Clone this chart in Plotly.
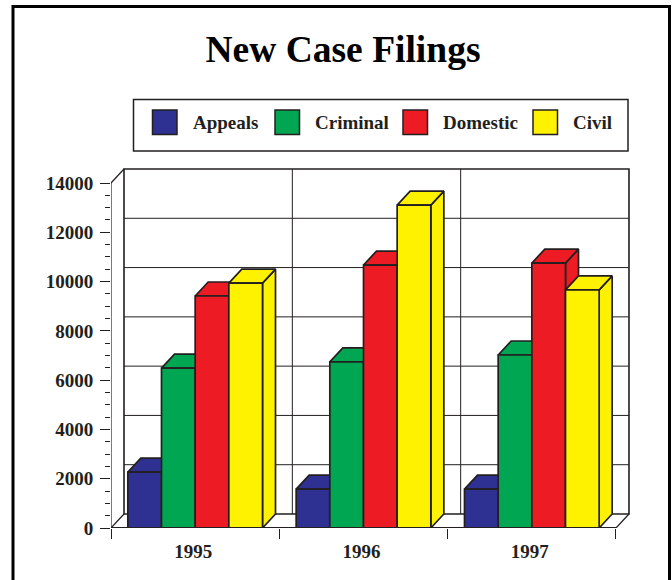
import plotly.graph_objects as go

years = ["1995", "1996", "1997"]
series_names = ["Appeals", "Criminal", "Domestic", "Civil"]
appeals = [2270, 1580, 1580]
criminal = [6490, 6740, 7020]
domestic = [9415, 10670, 10750]
civil = [9940, 13100, 9660]
series_values = [appeals, criminal, domestic, civil]
colors = ["#2e3192", "#00a651", "#ed1c24", "#fff200"]
y_ticks = list(range(0, 14001, 2000))
y_minor = list(range(0, 14001, 500))

INK = "#231f20"
L, R, T, B = 111, 632, 165, 528
PX_X = 168.33
PX_Y = 345 / 14000
DX = 13 / PX_X
DY = 14 / PX_Y
BAR_W = 0.2
X_MAX = (R - L) / PX_X
Y_MAX = (B - T) / PX_Y
n = len(years)

fig = go.Figure()


def line(xs, ys, width=1.0):
    fig.add_trace(go.Scatter(x=xs, y=ys, mode="lines", cliponaxis=False, showlegend=False,
                             hoverinfo="skip", line=dict(color=INK, width=width)))


def poly(xs, ys, color, name):
    fig.add_trace(go.Scatter(x=xs, y=ys, mode="lines", fill="toself", fillcolor=color, name=name,
                             cliponaxis=False, showlegend=False,
                             line=dict(color=INK, width=1.7)))


# back wall gridlines
for v in y_ticks[1:-1]:
    line([DX, n + DX], [v + DY, v + DY])
for i in range(1, n):
    line([i + DX, i + DX], [DY, 14000 + DY])
# wall outline and floor
line([DX, DX, n + DX, n + DX, DX], [DY, 14000 + DY, 14000 + DY, DY, DY], 1.6)
line([0, DX], [0, DY], 1.2)
line([n, n + DX], [0, DY], 1.2)
line([0, DX], [14000, 14000 + DY], 1.2)
line([0, 0], [0, 14000], 1.2)

# bars: side, top, front, left to right
for g in range(n):
    for s, (name, vals, col) in enumerate(zip(series_names, series_values, colors)):
        v = vals[g]
        x0 = g + 0.5 - 2 * BAR_W + s * BAR_W
        x1 = x0 + BAR_W
        poly([x1, x1 + DX, x1 + DX, x1, x1], [0, DY, v + DY, v, 0], col, name)
        poly([x0, x0 + DX, x1 + DX, x1, x0], [v, v + DY, v + DY, v, v], col, name)
        poly([x0, x1, x1, x0, x0], [0, 0, v, v, 0], col, name)

line([0, n], [0, 0], 2)


def px(x):
    return (x - L) / (R - L)


def py(y):
    return (B - y) / (B - T)


shapes = [
    dict(type="rect", xref="paper", yref="paper", x0=px(13), x1=px(669.5), y0=py(600), y1=py(6.5),
         line=dict(color="#000000", width=3), layer="below"),
    dict(type="rect", xref="paper", yref="paper", x0=px(133.5), x1=px(628), y0=py(151), y1=py(99.5),
         line=dict(color=INK, width=1.5), fillcolor="white", layer="below"),
]
annotations = []
swatch_x = [152.5, 275, 403, 533]
label_x = [193, 315, 443, 573]
for name, col, sx, lx in zip(series_names, colors, swatch_x, label_x):
    shapes.append(dict(type="rect", xref="paper", yref="paper", x0=px(sx), x1=px(sx + 24.5),
                       y0=py(134.5), y1=py(110), fillcolor=col, line=dict(color=INK, width=1.5)))
    annotations.append(dict(text=f"<b>{name}</b>", xref="paper", yref="paper", x=px(lx), y=py(122),
                            xanchor="left", yanchor="middle", showarrow=False, xshift=-2,
                            font=dict(family="Liberation Serif", size=19, color=INK)))

fig.update_layout(
    width=672, height=580, margin=dict(l=L, r=672 - R, t=T, b=580 - B),
    paper_bgcolor="white", plot_bgcolor="white", showlegend=False,
    font=dict(family="Liberation Serif", size=19, color=INK),
    title=dict(text="<b>New Case Filings</b>", xref="container", yref="container",
               x=343 / 672, xanchor="center", y=1 - 49 / 580, yanchor="middle",
               font=dict(family="Liberation Serif", size=37.5, color="#000000")),
    shapes=shapes, annotations=annotations,
    xaxis=dict(range=[0, X_MAX], showgrid=False, zeroline=False, showline=False,
               tickmode="array", tickvals=[i + 0.488 for i in range(n)],
               ticktext=[f"<b>{y}</b>" for y in years], ticks="", ticklabelstandoff=10,
               minor=dict(tickmode="array", tickvals=list(range(n + 1)), ticks="outside",
                          ticklen=10, tickwidth=1.2, tickcolor=INK, showgrid=False)),
    yaxis=dict(range=[0, Y_MAX], showgrid=False, zeroline=False, showline=False,
               tickmode="array", tickvals=y_ticks, ticktext=[f"<b>{v}</b>" for v in y_ticks],
               ticks="outside", ticklen=10, tickwidth=1.2, tickcolor=INK, ticklabelstandoff=3,
               minor=dict(tickmode="array", tickvals=y_minor, ticks="outside",
                          ticklen=5, tickwidth=1, tickcolor=INK, showgrid=False)),
)

fig.write_html("out.html", config={"displayModeBar": False},
               post_script="document.body.style.margin='0';document.body.style.overflow='hidden';")
